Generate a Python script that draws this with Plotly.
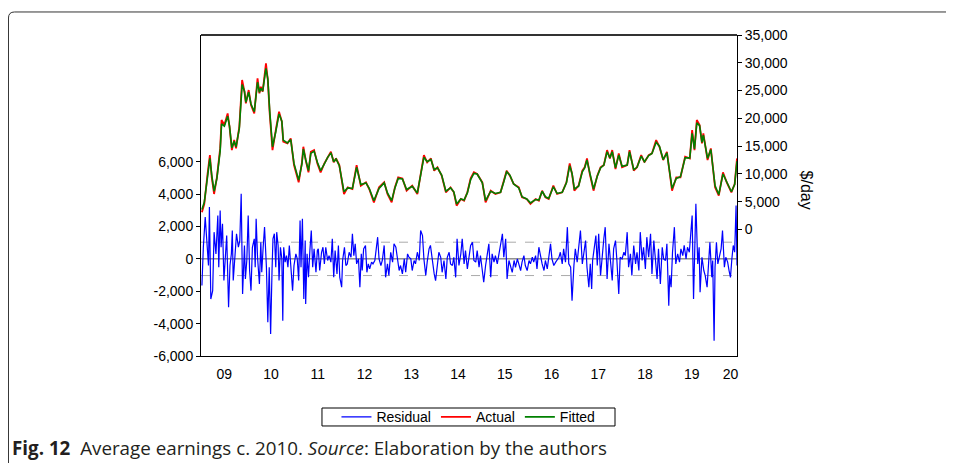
import plotly.graph_objects as go

# time in years since 1 Jan 2009, values in thousand $/day
act_t = [0.02, 0.07, 0.14, 0.19, 0.23, 0.28, 0.34, 0.41, 0.44, 0.50,
         0.57, 0.61, 0.66, 0.71, 0.75, 0.82, 0.88, 0.93, 0.96, 1.02,
         1.07, 1.14, 1.21, 1.25, 1.28, 1.32, 1.39, 1.43, 1.47, 1.53,
         1.60, 1.67, 1.73, 1.76, 1.85, 1.92, 1.99, 2.09, 2.16, 2.19,
         2.24, 2.30, 2.35, 2.42, 2.49, 2.56, 2.64, 2.71, 2.78, 2.84,
         2.89, 2.96, 3.06, 3.14, 3.24, 3.33, 3.42, 3.53, 3.60, 3.70,
         3.81, 3.92, 3.99, 4.08, 4.15, 4.22, 4.31, 4.40, 4.52, 4.63,
         4.70, 4.77, 4.84, 4.92, 4.99, 5.06, 5.15, 5.24, 5.34, 5.41,
         5.47, 5.56, 5.63, 5.70, 5.77, 5.84, 5.91, 6.02, 6.09, 6.20,
         6.30, 6.41, 6.48, 6.54, 6.61, 6.69, 6.80, 6.87, 6.97, 7.05,
         7.16, 7.23, 7.30, 7.37, 7.44, 7.54, 7.62, 7.73, 7.82, 7.89,
         7.94, 7.99, 8.08, 8.16, 8.21, 8.26, 8.32, 8.40, 8.48, 8.55,
         8.62, 8.69, 8.75, 8.80, 8.87, 8.94, 9.01, 9.12, 9.17, 9.26,
         9.33, 9.42, 9.49, 9.58, 9.65, 9.74, 9.81, 9.89, 9.97, 10.08,
         10.17, 10.26, 10.36, 10.46, 10.51, 10.56, 10.61, 10.67, 10.72, 10.75,
         10.84, 10.91, 11.00, 11.08, 11.17, 11.25, 11.35, 11.42, 11.47]

actual = [3.1, 4.6, 10.0, 13.4, 9.4, 6.4, 9.4, 14.6, 19.7, 18.8,
          20.9, 18.5, 14.3, 16.1, 14.6, 18.5, 26.9, 24.8, 22.7, 25.1,
          22.4, 20.9, 27.2, 24.5, 25.7, 24.8, 29.9, 26.9, 20.9, 14.3,
          17.9, 21.2, 19.4, 15.8, 15.5, 16.4, 11.6, 8.5, 12.1, 14.9,
          12.5, 10.3, 14.0, 14.3, 11.9, 10.3, 11.9, 13.1, 14.0, 12.1,
          12.8, 11.6, 6.4, 7.6, 7.3, 11.6, 7.9, 8.5, 7.3, 4.9,
          7.6, 8.5, 6.4, 4.9, 7.6, 9.4, 9.2, 7.0, 7.9, 6.4,
          10.0, 13.4, 12.1, 12.8, 10.6, 11.2, 9.7, 6.7, 7.6, 6.7,
          4.3, 5.5, 5.2, 6.7, 9.2, 10.3, 10.0, 8.5, 4.9, 7.0,
          6.4, 6.7, 8.8, 10.6, 9.7, 8.2, 7.6, 5.8, 5.5, 4.6,
          5.5, 5.2, 7.0, 5.8, 5.5, 7.9, 6.4, 6.7, 8.5, 11.9,
          10.0, 7.0, 7.9, 10.6, 11.2, 12.8, 10.0, 7.0, 9.7, 11.2,
          11.6, 14.3, 12.8, 14.3, 10.9, 13.7, 11.2, 11.6, 14.3, 10.6,
          11.2, 13.4, 12.1, 13.4, 13.7, 16.1, 14.9, 12.5, 14.0, 7.0,
          9.4, 9.4, 13.1, 12.8, 17.9, 14.3, 19.7, 18.8, 15.5, 17.3,
          12.5, 14.6, 7.6, 6.1, 10.3, 8.5, 6.7, 8.2, 12.8]

fitted = [3.6, 4.9, 9.5, 12.8, 9.8, 6.9, 9.2, 14.1, 19.0, 18.6,
          20.4, 18.6, 14.7, 15.9, 14.9, 18.2, 26.1, 24.9, 22.9, 24.7,
          22.6, 21.2, 26.5, 24.7, 25.4, 24.9, 29.0, 27.1, 21.4, 14.9,
          17.6, 20.8, 19.5, 16.1, 15.6, 16.2, 11.9, 8.9, 11.8, 14.5,
          12.6, 10.6, 13.7, 14.1, 12.1, 10.6, 11.8, 13.0, 13.8, 12.2,
          12.7, 11.5, 6.8, 7.5, 7.4, 11.2, 8.1, 8.4, 7.4, 5.2,
          7.4, 8.4, 6.6, 5.2, 7.5, 9.2, 9.1, 7.2, 7.8, 6.6,
          9.8, 13.0, 12.2, 12.6, 10.8, 11.1, 9.8, 6.9, 7.5, 6.8,
          4.6, 5.5, 5.3, 6.6, 9.0, 10.1, 10.0, 8.4, 5.2, 6.9,
          6.5, 6.7, 8.6, 10.4, 9.8, 8.2, 7.5, 5.9, 5.5, 4.8,
          5.4, 5.3, 6.9, 5.9, 5.6, 7.7, 6.5, 6.7, 8.4, 11.5,
          10.1, 7.3, 7.8, 10.4, 11.1, 12.5, 10.2, 7.3, 9.6, 11.1,
          11.6, 14.0, 12.9, 14.0, 11.1, 13.4, 11.4, 11.6, 14.0, 10.8,
          11.2, 13.2, 12.2, 13.3, 13.7, 15.7, 15.0, 12.6, 13.8, 7.4,
          9.2, 9.5, 12.9, 12.9, 17.3, 14.5, 19.2, 18.7, 15.7, 17.0,
          12.8, 14.4, 7.9, 6.3, 10.0, 8.6, 6.8, 8.1, 12.3]

res_t = [0.02, 0.05, 0.09, 0.13, 0.16, 0.18, 0.21, 0.25, 0.28, 0.32,
         0.36, 0.38, 0.41, 0.43, 0.46, 0.49, 0.52, 0.55, 0.59, 0.62,
         0.65, 0.67, 0.69, 0.73, 0.76, 0.80, 0.83, 0.86, 0.89, 0.93,
         0.95, 0.98, 1.01, 1.04, 1.07, 1.10, 1.14, 1.16, 1.18, 1.21,
         1.25, 1.28, 1.30, 1.33, 1.36, 1.40, 1.43, 1.46, 1.49, 1.52,
         1.54, 1.57, 1.60, 1.62, 1.65, 1.67, 1.70, 1.73, 1.75, 1.77,
         1.80, 1.83, 1.86, 1.89, 1.92, 1.96, 1.99, 2.03, 2.06, 2.09,
         2.12, 2.14, 2.17, 2.20, 2.23, 2.24, 2.27, 2.30, 2.33, 2.36,
         2.39, 2.42, 2.46, 2.49, 2.51, 2.54, 2.58, 2.61, 2.64, 2.67,
         2.71, 2.74, 2.78, 2.81, 2.84, 2.87, 2.91, 2.94, 2.97, 3.01,
         3.03, 3.07, 3.10, 3.13, 3.17, 3.21, 3.24, 3.27, 3.30, 3.33,
         3.37, 3.40, 3.43, 3.45, 3.48, 3.52, 3.55, 3.58, 3.61, 3.65,
         3.68, 3.72, 3.75, 3.78, 3.81, 3.85, 3.88, 3.92, 3.95, 3.99,
         4.02, 4.06, 4.10, 4.13, 4.17, 4.20, 4.24, 4.27, 4.31, 4.35,
         4.38, 4.42, 4.45, 4.49, 4.52, 4.56, 4.59, 4.63, 4.67, 4.70,
         4.74, 4.77, 4.81, 4.84, 4.88, 4.91, 4.95, 4.99, 5.02, 5.06,
         5.09, 5.13, 5.16, 5.20, 5.24, 5.27, 5.31, 5.34, 5.38, 5.41,
         5.45, 5.48, 5.52, 5.56, 5.59, 5.63, 5.66, 5.70, 5.73, 5.77,
         5.81, 5.84, 5.88, 5.91, 5.95, 5.98, 6.02, 6.05, 6.09, 6.13,
         6.16, 6.20, 6.23, 6.27, 6.30, 6.34, 6.38, 6.41, 6.45, 6.48,
         6.52, 6.55, 6.59, 6.62, 6.66, 6.70, 6.73, 6.77, 6.80, 6.84,
         6.87, 6.91, 6.94, 6.98, 7.02, 7.05, 7.09, 7.12, 7.16, 7.19,
         7.23, 7.27, 7.30, 7.34, 7.37, 7.41, 7.44, 7.48, 7.51, 7.55,
         7.59, 7.62, 7.66, 7.69, 7.73, 7.76, 7.80, 7.84, 7.87, 7.91,
         7.94, 7.98, 8.01, 8.05, 8.08, 8.12, 8.16, 8.19, 8.23, 8.26,
         8.30, 8.33, 8.36, 8.38, 8.42, 8.45, 8.48, 8.51, 8.55, 8.58,
         8.62, 8.65, 8.69, 8.73, 8.76, 8.80, 8.83, 8.87, 8.90, 8.94,
         8.97, 9.01, 9.05, 9.08, 9.12, 9.15, 9.19, 9.22, 9.26, 9.30,
         9.33, 9.37, 9.40, 9.44, 9.47, 9.51, 9.54, 9.58, 9.62, 9.65,
         9.69, 9.72, 9.76, 9.79, 9.83, 9.87, 9.90, 9.94, 9.97, 10.01,
         10.03, 10.06, 10.09, 10.13, 10.16, 10.20, 10.24, 10.27, 10.31, 10.34,
         10.38, 10.41, 10.45, 10.48, 10.51, 10.54, 10.57, 10.59, 10.63, 10.66,
         10.68, 10.72, 10.76, 10.79, 10.83, 10.86, 10.89, 10.93, 10.95, 10.98,
         11.00, 11.03, 11.06, 11.09, 11.13, 11.16, 11.20, 11.23, 11.27, 11.30,
         11.33, 11.36, 11.39, 11.42, 11.45, 11.47]

residual = [-1.65, 0.72, 2.58, 1.13, -0.41, 3.2, -2.48, -1.96, 1.65, 0.31,
            2.68, -0.52, 2.99, 0.72, 2.17, -1.34, 0.52, 1.44, -2.99, -0.41,
            0.31, 1.75, -1.34, 0.72, 1.55, 0.72, 1.13, 4.02, -2.17, 0.83,
            -1.24, -0.10, 2.68, -0.72, -1.96, 0.72, 1.24, -0.52, 2.48, 0.10,
            -1.55, 1.03, -0.83, 0.72, 1.96, -0.52, -3.92, -0.52, -4.64, -0.72,
            1.24, 1.55, -0.52, 1.65, 0.83, -1.34, 0.72, 0.00, -3.82, 0.72,
            -0.20, 0.20, -0.52, 0.83, -0.72, -1.96, -0.41, 0.31, 0.00, -1.34,
            2.37, -0.52, 2.48, -2.48, 1.13, -2.79, 0.31, -1.14, 0.52, 1.75,
            -0.52, 0.62, -0.83, 0.52, 0.62, -0.72, 0.41, 0.72, -0.31, 0.72,
            -0.10, 0.20, -0.20, 1.24, -1.14, 0.52, -0.93, 0.83, -1.14, -1.75,
            -0.10, 0.72, -0.41, -0.31, 0.41, 0.10, 1.55, 0.20, 0.93, -0.31,
            0.00, -1.75, 0.31, -0.72, 0.62, 0.83, -0.83, -0.31, -0.62, -0.20,
            -0.31, -0.10, 0.62, 1.34, 0.00, -0.41, -0.10, 0.83, -1.14, -0.31,
            -1.03, 0.41, -0.20, 0.93, 0.72, 0.20, -0.72, -0.41, -0.93, 0.00,
            -0.83, 0.31, 0.10, 0.00, -0.72, -0.10, -0.31, 0.41, -0.10, 1.75,
            1.44, 0.00, -1.03, -0.20, 0.62, 0.83, -0.20, -0.93, -1.34, -0.41,
            0.41, 0.10, -0.83, -0.10, -1.24, 0.10, 0.41, -0.31, -0.41, 0.10,
            -1.14, 1.24, -0.41, 0.31, 1.24, -0.31, 0.52, -0.62, 0.00, 0.83,
            1.03, -0.10, -0.20, 0.52, -0.52, 0.20, -0.72, -1.44, -0.41, 0.41,
            0.93, -1.14, 0.31, -0.20, 0.20, -0.31, 0.31, 0.72, 1.55, 0.10,
            1.24, -1.24, -0.10, -0.41, -0.83, -0.10, -0.52, 0.00, -0.31, -0.72,
            -0.20, 0.20, -0.41, -0.72, -0.10, -0.31, 0.10, -0.20, 0.20, -0.62,
            0.72, 0.00, -0.31, -0.72, -0.10, -0.62, 0.10, 0.93, 0.00, -0.41,
            -0.20, -0.10, 0.10, 0.41, -0.31, 0.62, -0.20, 1.96, -0.31, -0.52,
            -2.58, -0.41, 0.62, -0.20, 0.52, 1.75, -0.31, 0.41, 1.13, -0.52,
            -1.75, -0.31, -1.86, -0.10, 0.93, 1.44, -0.41, 1.55, -1.03, 0.10,
            1.24, 1.96, -1.24, 0.93, -0.31, -1.34, 0.62, 1.13, -0.10, -2.17,
            0.10, 0.00, 0.41, 0.20, 1.65, -0.52, 0.31, -1.03, 0.83, -0.31,
            0.41, -0.72, 1.65, -0.10, 0.72, -0.62, 1.34, 0.10, 1.55, -0.93,
            1.13, 0.10, -1.24, 0.62, -1.55, 0.72, 0.00, -0.10, 0.93, -2.89,
            -1.03, -1.75, 0.41, 1.96, -0.31, 0.31, -0.20, 0.62, 0.20, 0.83,
            0.00, 0.72, 0.41, 1.55, 2.68, -2.48, 1.13, 3.41, -0.31, 0.72,
            -2.06, 0.10, -0.72, -1.03, -1.75, -0.41, 1.03, -1.14, -0.10, -5.06,
            -0.52, 1.03, -0.31, 0.10, 0.62, 1.75, -0.52, 0.10, -0.20, -0.72,
            -1.14, 0.00, 0.83, 0.41, 3.30, -0.41]

resid_se = 1030  # +/- 1 S.E. band
year_labels = ["09", "10", "11", "12", "13", "14", "15", "16", "17", "18", "19", "20"]
label_pos = [2009.5, 2010.5, 2011.5, 2012.5, 2013.5, 2014.5, 2015.5, 2016.5,
             2017.5, 2018.5, 2019.5, 2020.33]
left_ticks = [-6000, -4000, -2000, 0, 2000, 4000, 6000]
left_text = ["-6,000", "-4,000", "-2,000", "0", "2,000", "4,000", "6,000"]
right_ticks = [0, 5000, 10000, 15000, 20000, 25000, 30000, 35000]
right_text = ["0", "5,000", "10,000", "15,000", "20,000", "25,000", "30,000", "35,000"]

x_act = [2009 + t for t in act_t]
x_res = [2009 + t for t in res_t]
FONT = "Liberation Sans, Arial, sans-serif"

fig = go.Figure()
fig.add_trace(go.Scatter(x=x_res, y=[v * 1000 for v in residual], name="Residual",
                         mode="lines", line=dict(color="#0000ff", width=1.2)))
fig.add_trace(go.Scatter(x=x_act, y=[v * 1000 for v in actual], name="Actual",
                         mode="lines", line=dict(color="#ff0000", width=1.8), yaxis="y2"))
fig.add_trace(go.Scatter(x=x_act, y=[v * 1000 for v in fitted], name="Fitted",
                         mode="lines", line=dict(color="#008000", width=1.6), yaxis="y2"))

xr = [2009, 2020.47]
# page body has an 8px margin, so the figure is 8px smaller than the window
fig.update_layout(
    width=946, height=455, template="none",
    paper_bgcolor="white", plot_bgcolor="white",
    margin=dict(l=193, r=217, t=27, b=107, autoexpand=False),
    font=dict(family=FONT, size=14, color="black"),
    xaxis=dict(range=xr, tickmode="array", tickvals=label_pos, ticktext=year_labels,
               ticks="outside", ticklen=5, tickcolor="rgba(0,0,0,0)",
               showline=True, linecolor="black", linewidth=1,
               showgrid=False, zeroline=False, tickfont=dict(size=14)),
    xaxis2=dict(range=xr, overlaying="x", anchor="y", side="bottom",
                tickmode="linear", tick0=2009, dtick=1, showticklabels=False,
                ticks="outside", ticklen=5, tickcolor="black",
                minor=dict(ticks="outside", ticklen=3, dtick=0.25, tick0=2009, tickcolor="black"),
                showline=False, showgrid=False, zeroline=False),
    yaxis=dict(range=[-6000, 13830], tickmode="array", tickvals=left_ticks, ticktext=left_text,
               ticks="outside", ticklen=4, tickcolor="black",
               showline=True, linecolor="black", linewidth=1,
               showgrid=False, zeroline=False),
    yaxis2=dict(range=[-22740, 35000], overlaying="y", side="right", anchor="x",
                tickmode="array", tickvals=right_ticks, ticktext=right_text,
                ticks="outside", ticklen=4, tickcolor="black",
                showline=True, linecolor="black", linewidth=1,
                showgrid=False, zeroline=False),
    legend=dict(orientation="h", x=0.499, xanchor="center", y=-0.191, yanchor="middle",
                borderwidth=0, bgcolor="rgba(0,0,0,0)",
                font=dict(size=14, family=FONT), traceorder="normal"),
    showlegend=True,
)

# legend frame
fig.add_shape(type="rect", xref="paper", yref="paper",
              x0=0.2257, x1=0.7724, y0=-0.162, y1=-0.218,
              line=dict(color="black", width=1), fillcolor="white", layer="below")

# reference lines of the residual panel
fig.add_shape(type="line", xref="paper", yref="y", x0=0, x1=1, y0=0, y1=0,
              line=dict(color="#555555", width=1), layer="below")
for s in (resid_se, -resid_se):
    fig.add_shape(type="line", xref="paper", yref="y", x0=0, x1=1, y0=s, y1=s,
                  line=dict(color="#aaaaaa", width=1, dash="dash"), layer="below")

# heavy top border of the plot frame
fig.add_shape(type="line", xref="paper", yref="paper", x0=0, x1=1, y0=1, y1=1,
              line=dict(color="#333333", width=2))

# outer rounded figure frame
fig.add_shape(type="path", xref="paper", yref="paper",
              path="M -0.3592,-0.36 L -0.3592,1.0530 Q -0.3592,1.0717 -0.3480,1.0717 L 1.42,1.0717",
              line=dict(color="#333333", width=1))

fig.add_annotation(text="$/day", xref="paper", yref="paper", x=1.151, y=0.517,
                   textangle=90, showarrow=False, font=dict(size=16, family=FONT))

fig.add_annotation(text="<b>Fig. 12</b>&nbsp; Average earnings c. 2010. <i>Source</i>: Elaboration by the authors",
                   xref="paper", yref="paper", x=-0.356, y=-0.2866, xanchor="left", yanchor="middle",
                   showarrow=False, font=dict(size=18.8, family="Open Sans, Noto Sans, sans-serif", color="#231f20"))

fig.write_html("out.html")
